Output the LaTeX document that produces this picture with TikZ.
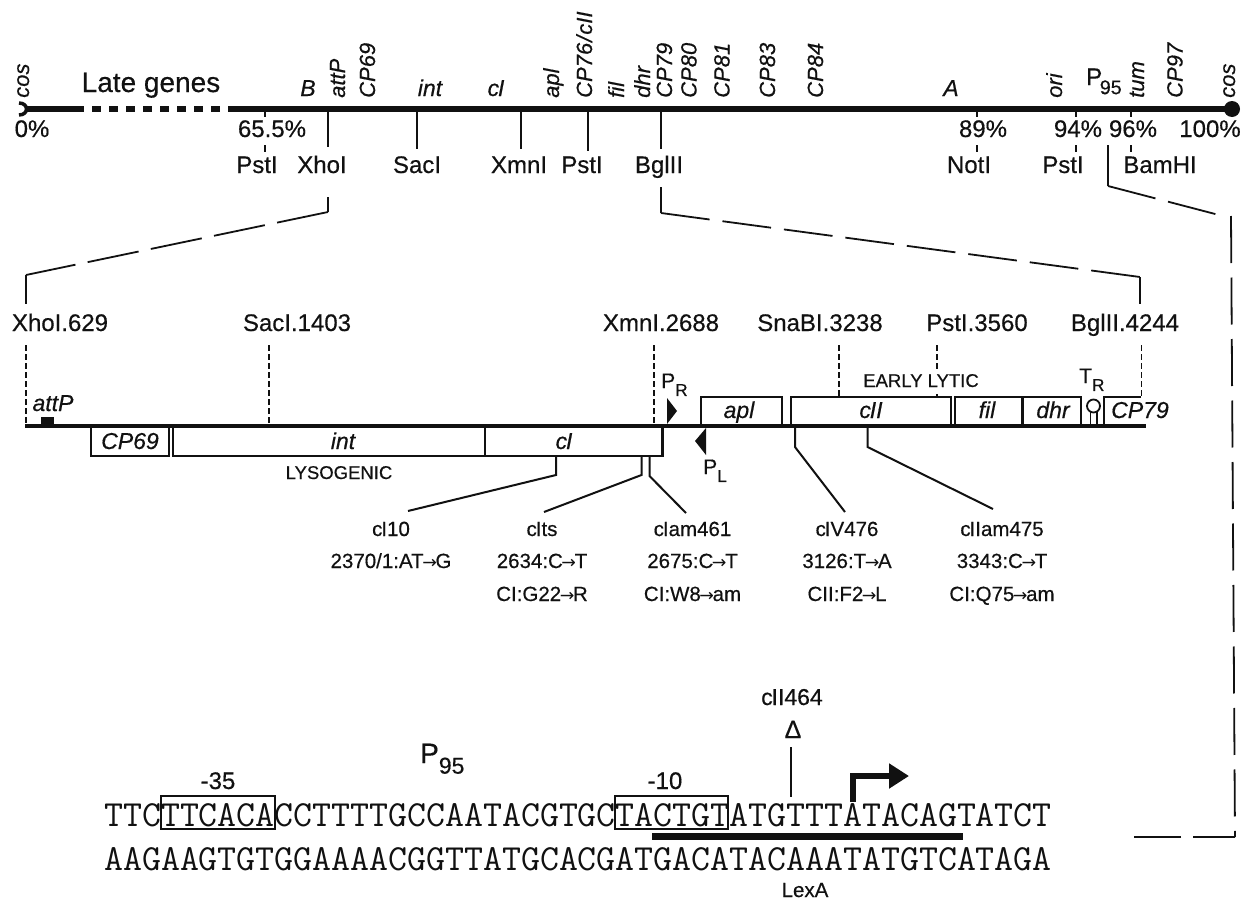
\documentclass[tikz,border=0pt]{standalone}
\usepackage{fontspec}
\setmainfont{Liberation Sans}[FakeBold=0.45]
\newfontfamily\arrowfont{DejaVu Sans}[Scale=.85]
\usepackage{xcolor}
\definecolor{ink}{HTML}{111111}
\usepackage{tikz}
\usetikzlibrary{arrows.meta,positioning}
\newcommand{\fs}[1]{\fontsize{#1}{#1}\selectfont}
\newcommand{\lowered}[1]{\raisebox{-.38em}{\scalebox{.82}{#1}}}
\newcommand{\toarrow}{{\arrowfont\kern-.08em →\kern-.08em}}
\newcommand{\cg}{c\kern-.05em }
\tikzset{
  txt/.style      = {inner sep=0pt, text=ink, anchor=base, font=\fs{24}},
  small/.style    = {inner sep=0pt, text=ink, anchor=base, font=\fs{20.5}},
  caps/.style     = {inner sep=0pt, text=ink, anchor=base, font=\fs{18.5}},
  gene/.style     = {inner sep=0pt, text=ink, anchor=base, font=\fs{23}\itshape},
  upgene/.style   = {inner sep=0pt, text=ink, font=\fs{22}\itshape, rotate=90, anchor=base west},
  seq/.style      = {inner sep=0pt, text=ink, font=\fs{36.8}\ttfamily\addfontfeature{FakeBold=0.7}, anchor=base west},
  map/.style      = {line width=6pt, draw=ink},
  dna/.style      = {line width=3.5pt, draw=ink},
  orf/.style      = {line width=2.4pt, draw=ink},
  tick/.style     = {line width=1.8pt, draw=ink},
  fine/.style     = {line width=1.8pt, draw=ink},
  leader/.style   = {line width=2pt, draw=ink},
  cut/.style      = {line width=1.7pt, draw=ink, dash pattern=on 6pt off 3pt},
  zoomline/.style = {line width=1.8pt, draw=ink, dash pattern=on 49pt off 13pt},
  promoter/.style = {fill=ink, draw=none}
}
\begin{document}
\begin{tikzpicture}[x=1pt,y=-1pt]
  \useasboundingbox (0,0) rectangle (1243,905);
  % phage map
  \coordinate (mapL) at (27,109);
  \coordinate (lateA) at (75,109);
  \coordinate (lateB) at (235,109);
  \coordinate (mapR) at (1232,109);
  \draw[map] (mapL) -- (lateA);
  \draw[map, dash pattern=on 9pt off 8pt] (lateA) -- (lateB);
  \draw[map] (lateB) -- (mapR);
  \draw[line width=3.5pt, draw=ink] (19,103) .. controls (29,103) and (29,115) .. (19,115);
  \fill[ink] (mapR) circle (8pt);
  \node[txt, font=\fs{28}] (late) at (151,92) {Late genes};
  \foreach \x/\lab/\nm in {29/cos/cosL, 345/attP/attP, 375/CP69/cpa, 559/apl/aplT, 592/CP76\kern1pt\slash\kern1pt cII/cpb,
      624/fil/filT, 650/dhr/dhrT, 672/CP79/cpc, 696.5/CP80/cpd, 729.5/CP81/cpe, 775/CP83/cpf, 823/CP84/cpg,
      1062/ori/ori, 1144/tum/tum, 1182.5/CP97/cph, 1235/cos/cosR}
    \node[upgene] (\nm) at (\x,98) {\lab};
  \foreach \x/\lab/\nm in {308/B/geneB, 430/int/intT, 496/\cg I/cIT, 951/A/geneA}
    \node[gene] (\nm) at (\x,96) {\lab};
  \node[txt, anchor=base west] (pnf) at (1086,85) {P\kern-.1em\lowered{95}};
  \foreach \x/\lab/\nm in {32/0\%/pa, 272/65.5\%/pb, 983/89\%/pc, 1078/94\%/pd, 1133/96\%/pe, 1210/100\%/pf}
    \node[txt] (\nm) at (\x,137) {\lab};
  \foreach \x/\lab/\nm in {257/PstI/ea, 322/XhoI/eb, 417/SacI/ec, 519/XmnI/ed, 582/PstI/ee, 659/BglII/ef,
      969/NotI/eg, 1063/PstI/eh, 1160/BamHI/ei}
    \node[txt] (\nm) at (\x,173) {\lab};
  % site ticks
  \foreach \x/\y in {328/147, 417/149, 521/149, 588/151, 661/149}
    \draw[tick] (\x,112) -- (\x,\y);
  \foreach \x in {265, 977, 1076, 1131} {
    \draw[tick] (\x,112) -- (\x,117);
    \draw[tick] (\x,145) -- (\x,152);
  }
  % zoom lines
  \coordinate (xa) at (328,197);
  \coordinate (xb) at (328,212);
  \coordinate (xc) at (26,275);
  \coordinate (xd) at (26,304);
  \coordinate (ba) at (661,187);
  \coordinate (bb) at (661,213);
  \coordinate (bc) at (1140,277);
  \coordinate (bd) at (1140,304);
  \coordinate (sa) at (1108,145);
  \coordinate (sb) at (1108,186);
  \coordinate (sc) at (1219,215);
  \coordinate (sd) at (1231,216);
  \coordinate (se) at (1235,837);
  \coordinate (sf) at (1134,837);
  \draw[fine] (xa) -- (xb);
  \draw[zoomline, dash pattern=on 52pt off 12.5pt] (xb) -- (xc);
  \draw[fine] (xc) -- (xd);
  \draw[fine] (ba) -- (bb);
  \draw[zoomline] (bb) -- (bc);
  \draw[fine] (bc) -- (bd);
  \draw[fine] (sa) -- (sb);
  \draw[zoomline] (sb) -- (sc);
  \draw[zoomline, dash pattern=on 47pt off 14.5pt] (sd) -- (se);
  \draw[zoomline, dash pattern=on 42pt off 12pt on 48pt off 0pt] (se) -- (sf);
  % restriction sites
  \foreach \x/\lab/\nm in {60/XhoI.629/ra, 297/SacI.1403/rb, 661/XmnI.2688/rc, 820/SnaBI.3238/rd,
      977/PstI.3560/re, 1125/BglII.4244/rf}
    \node[txt] (\nm) at (\x,331) {\lab};
  \foreach \x/\y in {26/424, 269/424, 654/424, 839/397, 1141.5/397}
    \draw[cut] (\x,345) -- (\x,\y);
  \draw[cut] (937,345) -- (937,370);
  \draw[tick] (937,394) -- (937,397);
  % backbone and genes
  \coordinate (dnaL) at (25,426);
  \coordinate (dnaR) at (1146,426);
  \draw[dna] (dnaL) -- (dnaR);
  \fill[ink] (41,417) rectangle (54,425);
  \node[gene] (attPb) at (53,411) {attP};
  \draw[orf] (91,426) rectangle (169,456);
  \draw[orf] (173,426) rectangle (485,456);
  \draw[orf] (485,426) rectangle (662.5,456);
  \draw[orf] (701,426) rectangle (782,397);
  \draw[orf] (791,426) rectangle (951,397);
  \draw[orf] (955,426) rectangle (1022.5,397);
  \draw[orf] (1022.5,426) rectangle (1081,397);
  \draw[orf] (1104,426) -- (1104,397) -- (1141,397);
  \draw[fine] (1093.5,406) circle (6.5pt);
  \draw[fine] (1090.5,412) -- (1090.5,426);
  \draw[fine] (1096.7,412) -- (1096.7,426);
  \foreach \x/\y/\lab/\nm in {130/449/CP69/ga, 343/449/int/gb, 564/449/\cg I/gc, 739/418/apl/gd, 871/418/\cg II/ge,
      987/418/fil/gf, 1053/418/dhr/gg, 1140/418/CP79/gh}
    \node[gene] (\nm) at (\x,\y) {\lab};
  \node[caps] (lyso) at (339,479) {LYSOGENIC};
  \node[caps] (lytic) at (921,387) {EARLY LYTIC};
  % promoters
  \fill[promoter] (667,398) -- (677,411) -- (667,424) -- cycle;
  \fill[promoter] (706,428) -- (695,441) -- (706,455) -- cycle;
  \node[txt, anchor=base west, font=\fs{21}] (pR) at (661,388) {P\lowered{R}};
  \node[txt, anchor=base west, font=\fs{21}] (pL) at (703,474) {P\lowered{L}};
  \node[txt, anchor=base west, font=\fs{21}] (tR) at (1079,383) {T\lowered{R}};
  % mutations
  \foreach \x/\lab/\nm in {391/\cg I10/ma, 542/\cg Its/mb, 692.5/\cg Iam461/mc, 847/\cg IV476/md, 1002/\cg IIam475/me}
    \node[small] (\nm) at (\x,536) {\lab};
  \foreach \x/\lab/\nm in {391/2370\slash 1:AT\toarrow G/na, 542/2634:C\toarrow T/nb, 692.5/2675:C\toarrow T/nc, 847/3126:T\toarrow A/nd, 1002/3343:C\toarrow T/ne}
    \node[small] (\nm) at (\x,568) {\lab};
  \foreach \x/\lab/\nm in {542/CI:G22\toarrow R/ob, 692.5/CI:W8\toarrow am/oc, 847/CII:F2\toarrow L/od, 1002/CI:Q75\toarrow am/oe}
    \node[small] (\nm) at (\x,601) {\lab};
  \foreach \xa/\ya/\yb/\xb/\yc in {556/456/475/408/511, 641.5/456/475/544/512, 649.5/456/476/686/513,
      795/426/447/845/512, 867.5/426/447/993/509}
    \draw[leader] (\xa,\ya) -- (\xa,\yb) -- (\xb,\yc);
  % promoter sequence
  \node[seq] (top) at (104,826) {TTCTTCACACCTTTTGCCAATACGTGCTACTGTATGTTTATACAGTATCT};
  \node[seq] (bot) at (104,870) {AAGAAGTGTGGAAAACGGTTATGCACGATGACATACAAATATGTCATAGA};
  \draw[orf] (161,796) rectangle (275,829);
  \draw[orf] (615,796) rectangle (728,829);
  \fill[ink] (652,833) rectangle (963,840);
  \node[txt] (m35) at (218,789) {-35};
  \node[txt] (m10) at (665,789) {-10};
  \node[txt, font=\fs{28}, anchor=base west] (pbig) at (420,763) {P\lowered{95}};
  \node[small, font=\fs{23}] (del) at (792,705) {\cg II464};
  \node[txt, font=\fs{25}] (delta) at (793,738) {Δ};
  \node[small] (lexA) at (805,897) {LexA};
  \coordinate (dla) at (791,747);
  \coordinate (dlb) at (791,797);
  \draw[fine] (dla) -- (dlb);
  \coordinate (tssa) at (853,802);
  \coordinate (tssb) at (853,776);
  \coordinate (tssc) at (909,776);
  \draw[line width=6pt, draw=ink, -{Triangle[length=20pt,width=24pt]}] (tssa) -- (tssb) -- (tssc);
\end{tikzpicture}
\end{document}
